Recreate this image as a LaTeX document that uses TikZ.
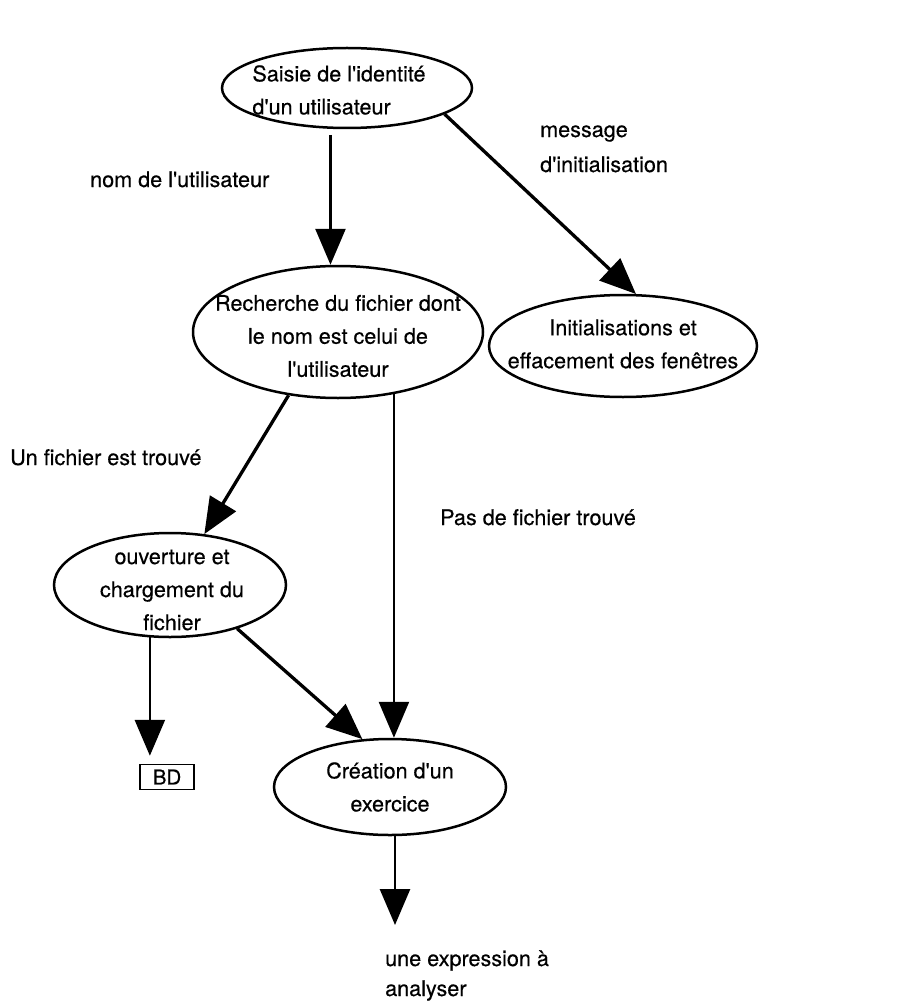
\documentclass[tikz,border=0pt]{standalone}
\usepackage{fontspec}
\setmainfont{TeX Gyre Heros}[FakeBold=0.4]
\usetikzlibrary{shapes.geometric,arrows.meta}
% straight typewriter apostrophe
\newcommand{\ap}{\textquotesingle}
\begin{document}
\begin{tikzpicture}[x=1pt,y=-1pt,
  every node/.style={font=\fontsize{21.6}{33}\selectfont},
  proc/.style={ellipse,draw,line width=2.5pt,inner sep=0pt},
  txt/.style={align=center,inner sep=0pt},
  lbl/.style={align=left,inner sep=0pt,anchor=base west},
  tip/.style={-{Triangle[length=36pt,width=30pt]}},
  flow/.style={tip,line width=2.7pt},
  slant/.style={tip,line width=3.3pt}]
\useasboundingbox[fill=white] (0,0) rectangle (903,1003);

% processes
\node[proc,minimum width=250pt,minimum height=80pt,
  label={[txt,align=left,xshift=-8pt,yshift=-2pt]center:{Saisie de l\ap identité\\d\ap un utilisateur}}]
  (saisie) at (347,88) {};
\node[proc,minimum width=290pt,minimum height=132pt,
  label={[txt,yshift=-4pt]center:{Recherche du fichier dont\\le nom est celui de\\l\ap utilisateur}}]
  (recherche) at (338,332) {};
\node[proc,minimum width=268pt,minimum height=102pt,
  label={[txt,yshift=2pt]center:{Initialisations et\\effacement des fenêtres}}]
  (init) at (623,346) {};
\node[proc,minimum width=232pt,minimum height=104pt,
  label={[txt,xshift=2pt,yshift=-5pt]center:{ouverture et\\chargement du\\fichier}}]
  (ouverture) at (170,585) {};
\node[proc,minimum width=232pt,minimum height=96pt,
  label={[txt]center:{Création d\ap un\\exercice}}]
  (creation) at (390,787) {};

% data store
\node[draw,line width=1.5pt,minimum width=54pt,minimum height=25pt,inner sep=0pt,
  font=\fontsize{20.5}{22}\selectfont] (bd) at (167,777) {BD};
\coordinate (sortie) at (395,925);

% flows
\draw[flow,shorten <=6pt] (saisie.-112) -- (saisie.-112 |- recherche.north);
\draw[slant] (saisie.-15) -- (init.76);
\draw[slant] (recherche.-128) -- (ouverture.56);
\draw[flow] (recherche.-48) -- (recherche.-48 |- creation.north);
\draw[slant] (ouverture.-33) -- (creation.120);
\draw[flow,shorten >=8pt] (ouverture.-111) -- (ouverture.-111 |- bd.north);
\draw[flow] (creation.south -| sortie) -- (sortie);

% labels (base anchor sits on the last line)
\node[lbl] (l1) at (90,187) {nom de l\ap utilisateur};
\node[lbl,font=\fontsize{21.6}{35}\selectfont] (l2) at (540,172) {message\\d\ap initialisation};
\node[lbl] (l3) at (10,465) {Un fichier est trouvé};
\node[lbl] (l4) at (440,525) {Pas de fichier trouvé};
\node[lbl,font=\fontsize{21.6}{30}\selectfont] (l5) at (385,996) {une expression à\\analyser};
\end{tikzpicture}
\end{document}
